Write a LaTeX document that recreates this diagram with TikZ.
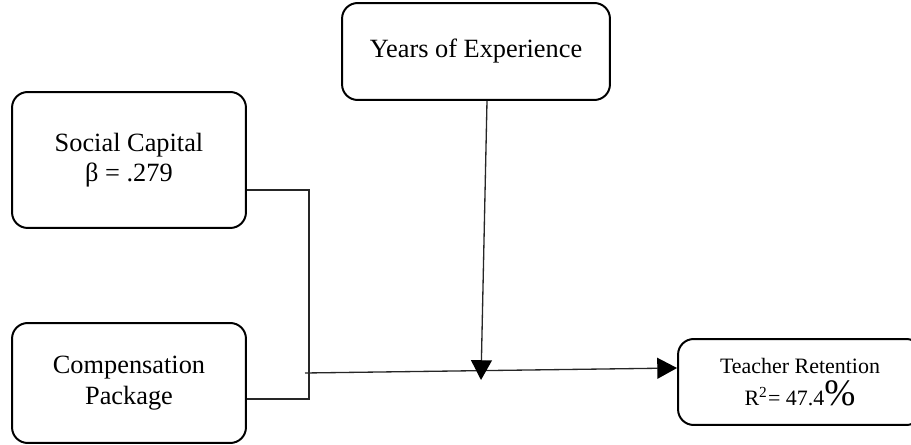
\documentclass[tikz,border=0pt]{standalone}
\usepackage{fontspec}
\setmainfont{Liberation Serif}
\usetikzlibrary{positioning,arrows.meta,calc}

\begin{document}
\begin{tikzpicture}[x=0.016cm,y=-0.016cm,
  box/.style={
    draw,
    line width=0.9pt,
    rounded corners=0.25cm,
    align=center,
    inner sep=0pt,
    font=\fontsize{12}{13.8}\selectfont
  },
  link/.style={
    draw=black!85,
    line width=0.6pt
  },
  tip/.style={
    -{Triangle[length=9pt,width=9.5pt,color=black]}
  }
]
\useasboundingbox (0,0) rectangle (911,445);
% Predictor boxes on the left, moderator on top, outcome on the right.
\node[box,minimum width=3.744cm,minimum height=2.176cm] (social) at (129,160)
  {Social Capital\\β = .279};
\node[box,minimum width=3.744cm,minimum height=1.92cm] (comp) at (129,383)
  {Compensation\\Package};
\node[box,minimum width=4.288cm,minimum height=1.552cm] (years) at (476,51.5)
  {Years of Experience};
\node[box,minimum width=3.904cm,minimum height=1.376cm,
  font=\fontsize{10}{14.5}\selectfont] (retention) at (800,382)
  {Teacher Retention\\R\textsuperscript{2}= 47.4{\fontsize{17}{17}\selectfont\%}};
\coordinate (start) at (305,373);
\coordinate (meet) at (481,380);
\draw[link] ([yshift=-0.48cm]social.east) -- ++(62,0) |- ([yshift=-0.256cm]comp.east);
\draw[link,tip] (start) -- ([yshift=0.224cm]retention.west);
\draw[link,tip] ([xshift=0.176cm]years.south) -- (meet);
\end{tikzpicture}
\end{document}
